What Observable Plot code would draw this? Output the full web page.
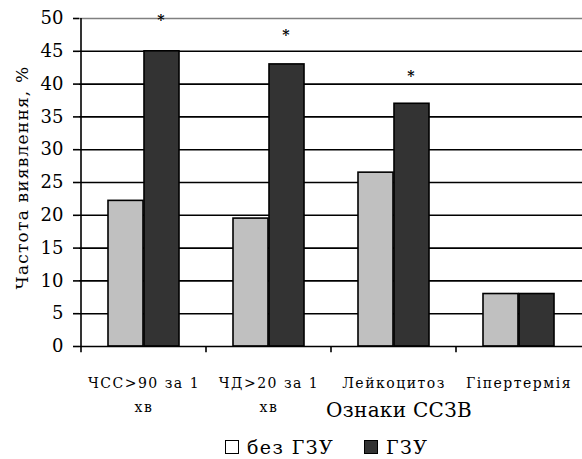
<!DOCTYPE html>
<html>
<head>
<meta charset="utf-8">
<script src="https://cdn.jsdelivr.net/npm/d3@7"></script>
<script src="https://cdn.jsdelivr.net/npm/@observablehq/plot@0.6"></script>
<style>
  html, body { margin: 0; padding: 0; background: #fff; }
  #chart { width: 582px; }
  #chart svg text { font-family: "DejaVu Serif", serif; }
  .legend { font-family: "DejaVu Serif", serif; font-size: 19px; letter-spacing: 1.4px; color: #000; display: flex; align-items: center; margin-top: 8px; padding-left: 225px; line-height: 22px; }
  .legend .item { display: flex; align-items: center; }
  .legend .item + .item { margin-left: 30px; }
  .legend .sw { display: inline-block; box-sizing: border-box; width: 14px; height: 14px; border: 1.5px solid #000; margin-right: 8px; }
</style>
</head>
<body>
<div id="chart"></div>
<script>
const categories = ["ЧСС>90 за 1 хв", "ЧД>20 за 1 хв", "Лейкоцитоз", "Гіпертермія"];
const seriesNames = ["без ГЗУ", "ГЗУ"];
const noGZU = [22.2, 19.5, 26.5, 8];
const GZU = [45, 43, 37, 8];
const starred = [true, true, true, false];
const starValues = [50, 47.7, 41.5, null];
const yTicks = [0, 5, 10, 15, 20, 25, 30, 35, 40, 45, 50];
const xTitle = "Ознаки ССЗВ";
const yTitle = "Частота виявлення, %";

const colors = {"без ГЗУ": "#c0c0c0", "ГЗУ": "#333333"};
const FONT = "DejaVu Serif, serif";

const light = categories.map((c, i) => ({cat: c, value: noGZU[i]}));
const dark = categories.map((c, i) => ({cat: c, value: GZU[i]}));
const stars = categories.map((c, i) => ({cat: c, value: starValues[i], s: starred[i]})).filter(d => d.s);

const fmt = s => s.replace(" хв", "\nхв");

const chart = Plot.plot({
  width: 582,
  height: 428,
  marginLeft: 79,
  marginRight: 0,
  marginTop: 18,
  marginBottom: 82,
  style: {fontFamily: FONT, background: "#fff", color: "#000", overflow: "visible"},
  x: {domain: categories, padding: 0, label: null},
  y: {domain: [0, 50], label: null},
  marks: [
    Plot.ruleY(yTicks.filter(t => t > 0 && t < 50), {y: d => d, stroke: "#000", strokeWidth: 1.6}),
    Plot.ruleY([50], {stroke: "#808080", strokeWidth: 1.6}),
    Plot.barY(light, {x: "cat", y: "value", fill: colors["без ГЗУ"], stroke: "#000", strokeWidth: 1.6, insetLeft: 27, insetRight: 63}),
    Plot.barY(dark, {x: "cat", y: "value", fill: colors["ГЗУ"], stroke: "#000", strokeWidth: 1.6, insetLeft: 63, insetRight: 27}),
    Plot.text(stars, {x: "cat", y: "value", text: d => "*", dx: 17, dy: 2, fontSize: 14, fontWeight: "bold", fill: "#000", fontFamily: FONT}),
    Plot.ruleY([0], {stroke: "#000", strokeWidth: 1.6}),
    Plot.ruleX([0], {x: () => categories[0], dx: -63, y1: 0, y2: 50, stroke: "#000", strokeWidth: 1.6}),
    Plot.ruleX(categories, {x: d => d, dx: -63, y1: 0, y2: -0.95, stroke: "#000", strokeWidth: 1.6}),
    Plot.axisY({ticks: yTicks, tickSize: 6, tickFormat: () => "", stroke: "#000", strokeWidth: 1.6, label: null}),
    Plot.text(yTicks, {y: d => d, frameAnchor: "left", textAnchor: "end", dx: -16, text: d => String(d), fontSize: 18, fill: "#000", fontFamily: FONT}),
    Plot.axisX({tickSize: 0, tickPadding: 24, fontSize: 14, tickFormat: fmt, lineHeight: 1.75, label: null, fill: "#000", fontFamily: FONT}),
    Plot.text([yTitle], {frameAnchor: "left", textAnchor: "middle", rotate: -90, dx: -57, dy: -5, text: d => d, fontSize: 17, fill: "#000", fontFamily: FONT}),
    Plot.text([xTitle], {x: () => categories[2], y: () => 0, dx: 5, dy: 64.5, text: d => d, fontSize: 20, fill: "#000", fontFamily: FONT})
  ]
});
document.getElementById("chart").appendChild(chart);

// letter spacing to approximate the wider original typeface
d3.select(chart).selectAll('g[aria-label="x-axis tick label"] text').attr("letter-spacing", "1.5px");
d3.select(chart).selectAll("text").filter(function() { return this.textContent === yTitle; }).attr("letter-spacing", "1.2px");
d3.select(chart).selectAll("text").filter(function() { return this.textContent === xTitle; }).attr("letter-spacing", "0.3px");

const legend = document.createElement("div");
legend.className = "legend";
seriesNames.forEach((n, i) => {
  const item = document.createElement("div");
  item.className = "item";
  const sw = document.createElement("span");
  sw.className = "sw";
  sw.style.background = i === 0 ? "#fff" : colors[n];
  const t = document.createElement("span");
  t.textContent = n;
  item.appendChild(sw); item.appendChild(t);
  legend.appendChild(item);
});
document.getElementById("chart").appendChild(legend);
</script>
</body>
</html>
